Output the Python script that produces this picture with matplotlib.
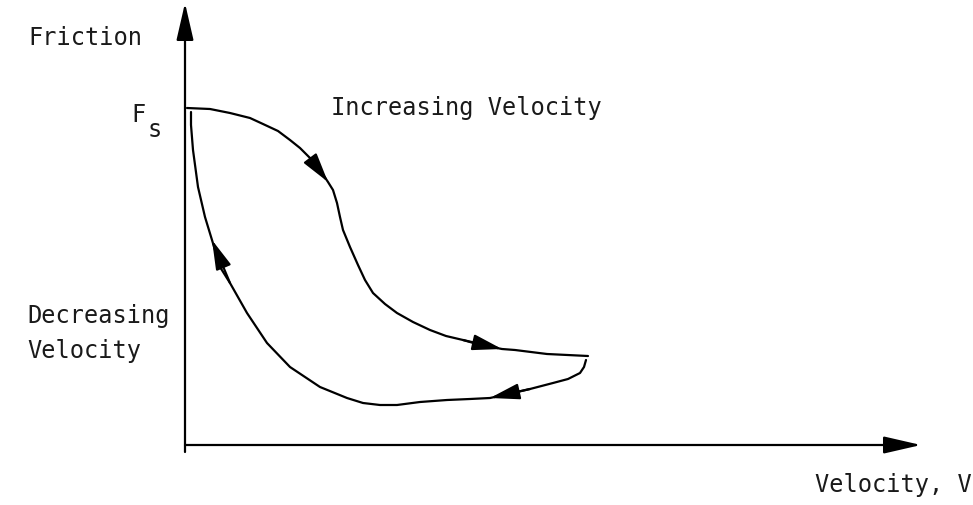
import matplotlib
matplotlib.use("Agg")
import matplotlib.pyplot as plt

# friction loop, velocity v vs friction F (arbitrary units)
inc_v = [0.02, 0.25, 0.45, 0.65, 0.78, 0.93, 1.05, 1.15, 1.25, 1.35, 1.43,
         1.48, 1.52, 1.55, 1.58, 1.65, 1.73, 1.80, 1.88, 2.00, 2.12, 2.28,
         2.45, 2.61, 2.78, 2.92, 3.17, 3.30, 3.62, 4.03]
inc_f = [3.37, 3.36, 3.32, 3.27, 3.21, 3.14, 3.05, 2.97, 2.87, 2.75, 2.63,
         2.55, 2.42, 2.28, 2.15, 1.98, 1.80, 1.65, 1.52, 1.41, 1.32, 1.23,
         1.15, 1.09, 1.05, 1.01, 0.96, 0.95, 0.91, 0.89]

dec_v = [4.01, 3.99, 3.95, 3.83, 3.68, 3.45, 3.32, 3.05, 2.85, 2.62, 2.35,
         2.12, 1.95, 1.78, 1.62, 1.35, 1.05, 0.82, 0.62, 0.45, 0.35, 0.27,
         0.20, 0.13, 0.08, 0.06, 0.06]
dec_f = [0.85, 0.78, 0.72, 0.66, 0.62, 0.56, 0.53, 0.47, 0.46, 0.45, 0.43,
         0.40, 0.40, 0.42, 0.47, 0.58, 0.78, 1.02, 1.32, 1.62, 1.78, 2.05,
         2.28, 2.58, 2.95, 3.20, 3.33]

# arrowheads along the curves: (index of tail point, index of tip point)
inc_arrows = [(8, 10), (24, 26)]
dec_arrows = [(5, 7), (19, 21)]

v_max = 7.36
f_max = 4.42

fig = plt.figure(figsize=(9.73, 5.05), dpi=100)
ax = fig.add_axes([0, 0, 1, 1])
ax.set_xlim(-1.85, 7.88)
ax.set_ylim(-0.60, 4.45)
ax.axis("off")

ink = "black"
lw = 1.6

# axes with arrowheads
axis_head = "-|>,head_length=1.0,head_width=0.23"
ax.annotate("", xy=(0, f_max), xytext=(0, -0.07),
            arrowprops=dict(arrowstyle=axis_head, mutation_scale=23,
                            color=ink, lw=lw, shrinkA=0, shrinkB=0))
ax.annotate("", xy=(v_max, 0), xytext=(0, 0),
            arrowprops=dict(arrowstyle=axis_head, mutation_scale=23,
                            color=ink, lw=lw, shrinkA=0, shrinkB=0))

ax.plot(inc_v, inc_f, color=ink, lw=lw, solid_capstyle="round",
        solid_joinstyle="round")
ax.plot(dec_v, dec_f, color=ink, lw=lw, solid_capstyle="round",
        solid_joinstyle="round")

curve_head = "-|>,head_length=1.0,head_width=0.27"
for a, b in inc_arrows:
    ax.annotate("", xy=(inc_v[b], inc_f[b]), xytext=(inc_v[a], inc_f[a]),
                arrowprops=dict(arrowstyle=curve_head, mutation_scale=18,
                                color=ink, lw=lw, shrinkA=0, shrinkB=0))
for a, b in dec_arrows:
    ax.annotate("", xy=(dec_v[b], dec_f[b]), xytext=(dec_v[a], dec_f[a]),
                arrowprops=dict(arrowstyle=curve_head, mutation_scale=18,
                                color=ink, lw=lw, shrinkA=0, shrinkB=0))

txt = dict(color="#1a1a1a", fontsize=17, family="DejaVu Sans Mono")
ax.text(-1.57, 4.00, "Friction", ha="left", va="baseline", **txt)
ax.text(-0.54, 3.23, "F", ha="left", va="baseline", **txt)
ax.text(-0.37, 3.08, "s", ha="left", va="baseline", **txt)
ax.text(1.46, 3.30, "Increasing Velocity", ha="left", va="baseline", **txt)
ax.text(-1.58, 1.22, "Decreasing", ha="left", va="baseline", **txt)
ax.text(-1.58, 0.87, "Velocity", ha="left", va="baseline", **txt)
ax.text(6.30, -0.47, "Velocity, V", ha="left", va="baseline", **txt)

fig.savefig("out.png", dpi=100)
